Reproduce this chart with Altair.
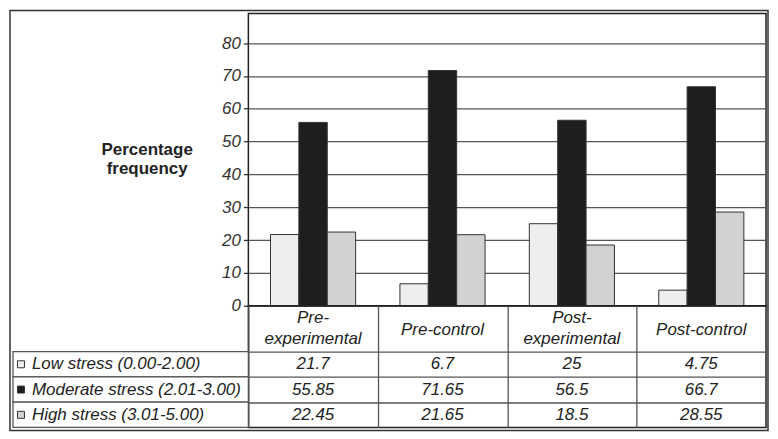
import altair as alt
import pandas as pd

categories = ["Pre-experimental", "Pre-control", "Post-experimental", "Post-control"]
header_labels = ["Pre-\nexperimental", "Pre-control", "Post-\nexperimental", "Post-control"]
series = ["Low stress (0.00-2.00)", "Moderate stress (2.01-3.00)", "High stress (3.01-5.00)"]
low_values = [21.7, 6.7, 25, 4.75]
moderate_values = [55.85, 71.65, 56.5, 66.7]
high_values = [22.45, 21.65, 18.5, 28.55]
y_ticks = [0, 10, 20, 30, 40, 50, 60, 70, 80]

fills = ["#eeeeee", "#1e1e1e", "#d2d2d2"]

records = []
for r, (s, vals) in enumerate(zip(series, [low_values, moderate_values, high_values])):
    for c, v in zip(categories, vals):
        records.append({"category": c, "series": s, "value": v, "row": r})
df = pd.DataFrame(records)
hdr = pd.DataFrame({"category": categories, "header": header_labels})

FONT = "Liberation Sans"
PW, PH, TH = 519, 293, 122
LINE = "#555555"
TXT = "#222222"

x_top = alt.X(
    "category:N", sort=categories,
    scale=alt.Scale(paddingInner=0, paddingOuter=0),
    axis=alt.Axis(title=None, labels=False, domain=False, ticks=False),
)

bars = alt.Chart(df).mark_bar(stroke="#333333", strokeWidth=1).encode(
    x=x_top,
    xOffset=alt.XOffset("series:N", sort=series,
                        scale=alt.Scale(paddingInner=0, paddingOuter=0.78)),
    y=alt.Y("value:Q", scale=alt.Scale(domain=[0, 89], nice=False, zero=True),
            axis=alt.Axis(values=y_ticks, grid=True, gridColor=LINE, gridWidth=1.3,
                          domain=False, tickSize=5, tickColor="#333333", tickWidth=1.3,
                          labelPadding=3, labelFontSize=17, labelFontStyle="italic",
                          labelColor="#333333",
                          title=["Percentage", "frequency"], titleAngle=0,
                          titleFontSize=17, titleFontWeight="bold", titleColor=TXT,
                          titleAlign="center", titleBaseline="middle",
                          titleX=-102, titleY=136, titleLineHeight=19)),
    color=alt.Color("series:N", sort=series,
                    scale=alt.Scale(domain=series, range=fills), legend=None),
).properties(width=PW, height=PH)

# ---- table below ----
x_tab = alt.X(
    "category:N", sort=categories,
    scale=alt.Scale(paddingInner=0, paddingOuter=0),
    axis=alt.Axis(title=None, labels=False, ticks=False, domain=False, grid=True,
                  tickBand="extent", gridColor=LINE, gridWidth=1.3),
)
y_scale = alt.Scale(domain=[-1.816, 3], reverse=True, nice=False, zero=False)
y_axis = alt.Axis(values=[0, 1, 2], grid=True, labels=False, ticks=False, domain=False,
                  title=None, gridColor=LINE, gridWidth=1.3)

base = alt.Chart(df).transform_calculate(
    mid="datum.row + 0.5", rowEnd="datum.row + 1"
)
first_col = base.transform_filter(alt.datum.category == categories[0])

values_text = base.mark_text(fontSize=17, fontStyle="italic", color=TXT,
                             baseline="middle", align="center").encode(
    x=x_tab,
    y=alt.Y("mid:Q", scale=y_scale, axis=y_axis),
    text=alt.Text("value:Q"),
)

hdr_base = alt.Chart(hdr)
hdr_two = hdr_base.transform_filter("indexof(datum.header, '\\n') >= 0").mark_text(
    fontSize=17, fontStyle="italic", color=TXT, baseline="middle", align="center",
    lineBreak="\n", lineHeight=21, dy=-10.5
).encode(x=x_tab, y=alt.value(23), text="header:N")
hdr_one = hdr_base.transform_filter("indexof(datum.header, '\\n') < 0").mark_text(
    fontSize=17, fontStyle="italic", color=TXT, baseline="middle", align="center",
).encode(x=x_tab, y=alt.value(24), text="header:N")

cells = first_col.mark_rect(fill="white", stroke=LINE, strokeWidth=1.3).encode(
    x=alt.value(-236), x2=alt.value(0),
    y=alt.Y("row:Q", scale=y_scale, axis=y_axis), y2="rowEnd:Q",
)

swatches = first_col.mark_point(shape="square", size=49, filled=True, opacity=1,
                                stroke="#333333", strokeWidth=1).encode(
    x=alt.value(-228),
    y=alt.Y("mid:Q", scale=y_scale, axis=y_axis),
    color=alt.Color("series:N", sort=series,
                    scale=alt.Scale(domain=series, range=fills), legend=None),
)

row_labels = first_col.mark_text(fontSize=17, fontStyle="italic", color=TXT,
                                 align="left", baseline="middle").encode(
    x=alt.value(-217),
    y=alt.Y("mid:Q", scale=y_scale, axis=y_axis),
    text="series:N",
)

frame = alt.Chart(df).transform_aggregate(n="count()").mark_rect(
    filled=False, stroke="#333333", strokeWidth=1.5
).encode(
    x=alt.value(-239), x2=alt.value(521), y=alt.value(-296), y2=alt.value(125),
)

table = alt.layer(cells, swatches, row_labels, values_text, hdr_two, hdr_one,
                  frame).properties(width=PW, height=TH)

chart = alt.vconcat(bars, table, spacing=0, bounds="flush").properties(
    padding=0, background="white"
).configure(font=FONT).configure_view(stroke="#222222", strokeWidth=1.5)

chart.save("out.html", embed_options={"renderer": "svg", "actions": False})
